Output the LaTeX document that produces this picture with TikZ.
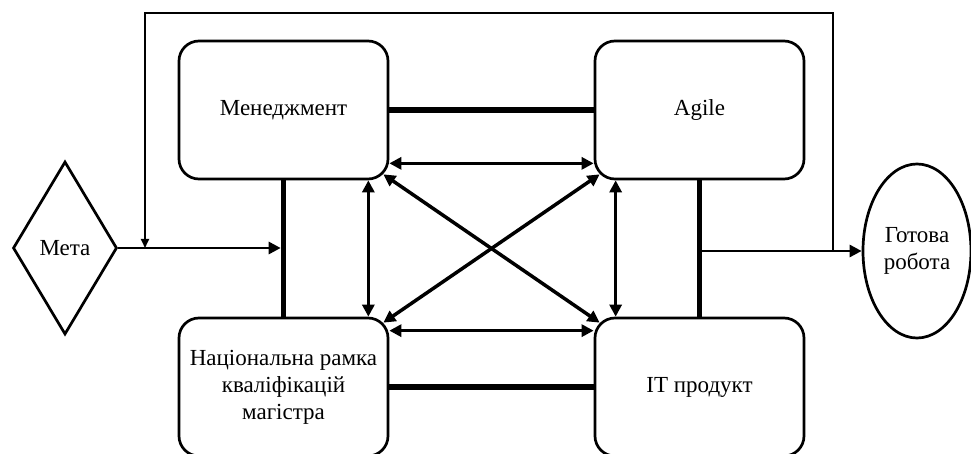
\documentclass[tikz,border=0pt]{standalone}
\usepackage{fontspec}
\setmainfont{Liberation Serif}
\usetikzlibrary{shapes.geometric,arrows.meta}

\begin{document}
\begin{tikzpicture}[x=0.5pt,y=-0.5pt,
		every node/.style={font=\fontsize{11.5}{13.5}\selectfont},
		box/.style={draw,line width=1.35pt,rounded corners=10pt,minimum width=104.5pt,minimum height=69pt,align=center},
		bond/.style={line width=2.9pt},
		arr/.style={-{Triangle[length=6pt,width=6pt]},line width=1.4pt},
		biarr/.style={{Triangle[length=6pt,width=6pt]}-{Triangle[length=6pt,width=6pt]},line width=1.75pt},
		backline/.style={-{Triangle[length=4.5pt,width=4pt]},line width=1pt}]
		\useasboundingbox (0,0) rectangle (971,454);

		% four blocks
		\node[box] (Man) at (283.5,110) {Менеджмент};
		\node[box] (Agile) at (699.5,110) {Agile};
		\node[box] (Nrk) at (283.5,387) {Національна рамка\\кваліфікацій\\магістра};
		\node[box] (It) at (699.5,387) {IT продукт};

		% input and result
		\node[draw,diamond,line width=1.35pt,minimum width=52pt,minimum height=86.5pt,inner sep=0pt] (Meta) at (65,248) {Мета};
		\node[draw,ellipse,line width=1.35pt,minimum width=54pt,minimum height=87pt,inner sep=0pt,align=center] (Res) at (917,251) {Готова\\робота};

		\coordinate (TopR) at (833,13);
		\coordinate (TopL) at (145,13);

		\draw[bond] (Man) to (Agile);
		\draw[bond] (Nrk) to (It);
		\draw[bond] (Man) to (Nrk);
		\draw[bond] (Agile) to (It);

		\draw[biarr] ([yshift=8.5pt]Man.south east) to ([yshift=8.5pt]Agile.south west);
		\draw[biarr] ([yshift=-7pt]Nrk.north east) to ([yshift=-7pt]It.north west);
		\draw[biarr] ([xshift=-10.5pt]Man.south east) to ([xshift=-10.5pt]Nrk.north east);
		\draw[biarr] ([xshift=11pt]Agile.south west) to ([xshift=11pt]It.north west);
		\draw[biarr] ([shift={(-3pt,3pt)}]Man.south east) to ([shift={(3pt,-3pt)}]It.north west);
		\draw[biarr] ([shift={(3pt,3pt)}]Agile.south west) to ([shift={(-3pt,-3pt)}]Nrk.north east);

		\draw[arr,shorten >=1.4pt] (Meta.east) to (Meta.east -| Man.south);
		\draw[arr] (Res.west -| Agile.south) to (Res.west);
		\draw[backline] (Res.west -| TopR) -- (TopR) -- (TopL) -- (Meta.east -| TopL);
		
		\end{tikzpicture}
\end{document}
